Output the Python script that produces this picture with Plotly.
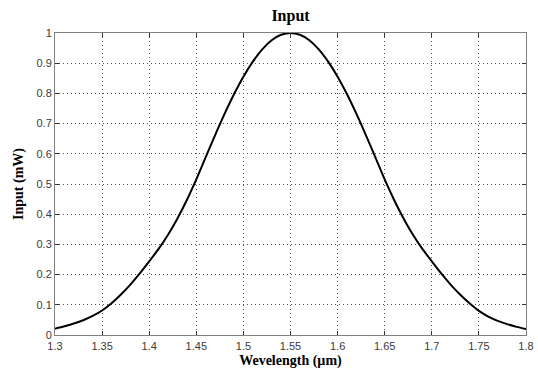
import plotly.graph_objects as go

# Input spectrum: wavelength (µm) vs. power (mW), sampled every 0.01 µm
wavelength = [round(1.30 + 0.01 * i, 2) for i in range(51)]
power_mw = [
    0.021, 0.029, 0.038, 0.049, 0.063, 0.081, 0.105, 0.134, 0.167, 0.204,   # 1.30-1.39
    0.244, 0.285, 0.332, 0.386, 0.447, 0.515, 0.589, 0.662, 0.732, 0.797,   # 1.40-1.49
    0.855, 0.905, 0.946, 0.976, 0.994, 1.000, 0.994, 0.976, 0.946, 0.905,   # 1.50-1.59
    0.855, 0.797, 0.732, 0.662, 0.589, 0.515, 0.447, 0.386, 0.332, 0.285,   # 1.60-1.69
    0.244, 0.204, 0.167, 0.134, 0.105, 0.080, 0.061, 0.047, 0.036, 0.027,   # 1.70-1.79
    0.020,                                                                  # 1.80
]

x_ticks = [1.3, 1.35, 1.4, 1.45, 1.5, 1.55, 1.6, 1.65, 1.7, 1.75, 1.8]
x_tick_text = ["1.3", "1.35", "1.4", "1.45", "1.5", "1.55", "1.6", "1.65", "1.7", "1.75", "1.8"]
y_ticks = [0, 0.1, 0.2, 0.3, 0.4, 0.5, 0.6, 0.7, 0.8, 0.9, 1]
y_tick_text = ["0", "0.1", "0.2", "0.3", "0.4", "0.5", "0.6", "0.7", "0.8", "0.9", "1"]

serif_bold = "Liberation Serif"
tick_font = dict(family="Liberation Sans, Arial", size=11, color="#3a3a3a")

fig = go.Figure()
fig.add_trace(go.Scatter(
    x=wavelength, y=power_mw, mode="lines",
    line=dict(color="black", width=2, shape="spline", smoothing=0.8),
    showlegend=False, hoverinfo="skip",
))

axis_common = dict(
    showgrid=True, gridcolor="#555555", griddash="1px,3px", gridwidth=1,
    showline=True, linecolor="#808080", linewidth=1, mirror="ticks",
    ticks="inside", ticklen=4, tickcolor="#333333",
    tickfont=tick_font, zeroline=False, automargin=False,
)

fig.update_layout(
    width=538, height=374,
    margin=dict(l=55, r=12, t=33, b=39),
    paper_bgcolor="white", plot_bgcolor="white",
    title=dict(text="<b>Input</b>", x=0.54, xanchor="center", y=0.96, yanchor="middle",
               font=dict(family=serif_bold, size=16, color="black")),
    xaxis=dict(range=[1.3, 1.8], tickvals=x_ticks, ticktext=x_tick_text,
               ticklabelstandoff=1,
               title=dict(text="<b>Wevelength (µm)</b>", standoff=3,
                          font=dict(family=serif_bold, size=14, color="black")),
               **axis_common),
    yaxis=dict(range=[0, 1], tickvals=y_ticks, ticktext=y_tick_text,
               title=dict(text="<b>Input (mW)</b>", standoff=9,
                          font=dict(family=serif_bold, size=14, color="black")),
               **axis_common),
)

fig.write_html("out.html")
